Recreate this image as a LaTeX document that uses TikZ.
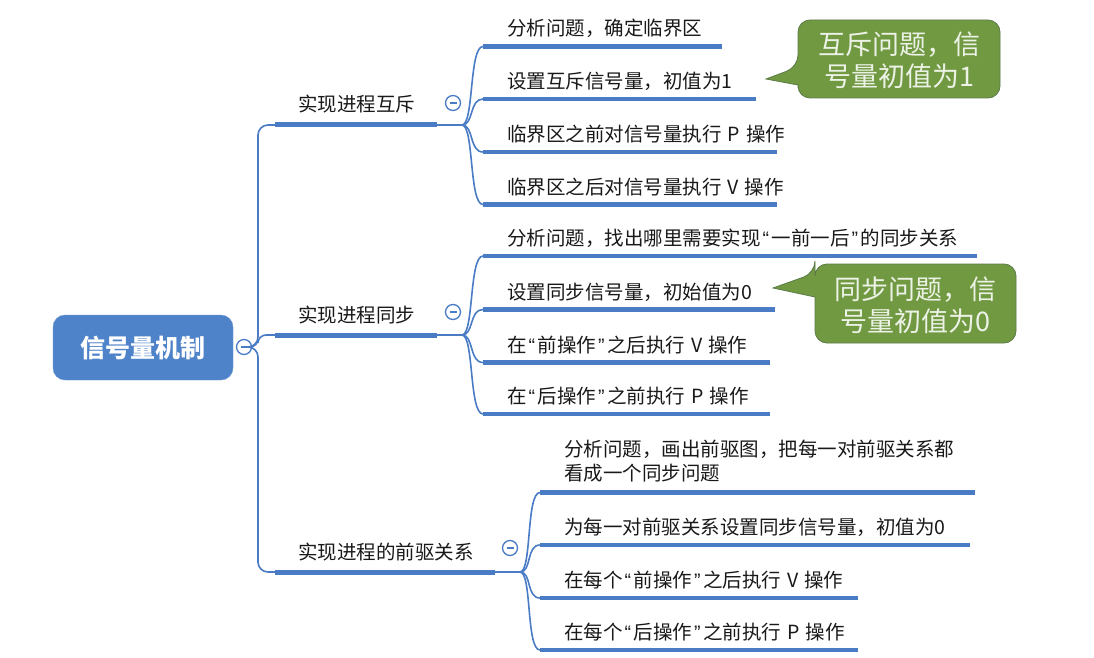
\documentclass[tikz,border=0pt]{standalone}
\usepackage{fontspec}
\setmainfont{Noto Sans CJK SC}
\newfontfamily\qfont{Liberation Sans}
\newcommand\oq{\hspace{2pt}{\qfont “}\hspace{2.5pt}}
\newcommand\cq{\hspace{2pt}{\qfont ”}\hspace{2.5pt}}
\newcommand\lsp{\hspace{6pt}}
\usetikzlibrary{calc}
\definecolor{lineblue}{RGB}{74,124,198}
\definecolor{rootblue}{RGB}{79,131,201}
\definecolor{callgreen}{RGB}{113,153,66}
\definecolor{callborder}{RGB}{92,122,72}
\definecolor{calltxt}{RGB}{236,242,230}
\definecolor{txt}{RGB}{25,25,25}
\begin{document}
\begin{tikzpicture}[x=1pt,y=-1pt,
  leaf/.style={anchor=base west, inner sep=0pt, text=txt, align=left, font=\fontsize{19.5}{24}\selectfont},
  branch/.style={anchor=base west, inner sep=0pt, text=txt, font=\fontsize{19.5}{24}\selectfont},
  uline/.style={draw=lineblue, line width=4.5pt},
  bline/.style={draw=lineblue, line width=5pt},
  conn/.style={draw=lineblue, line width=1.6pt},
  root/.style={rectangle, rounded corners=12pt, fill=rootblue, draw=rootblue!85!white, minimum width=180pt, minimum height=65pt, text=white, font=\fontsize{25}{30}\selectfont\bfseries},
  toggle/.style={circle, draw=lineblue, line width=1.3pt, fill=white, minimum size=15pt, inner sep=0pt,
    path picture={\draw[lineblue,line width=1.3pt] ([xshift=-3.5pt]path picture bounding box.center) -- ([xshift=3.5pt]path picture bounding box.center);}},
  callout/.style={fill=callgreen, draw=callborder, line width=0.8pt},
  calltext/.style={align=center, text=calltxt, font=\fontsize{27}{32}\selectfont},
  ]
\useasboundingbox (0,0) rectangle (1094,658);
\fill[white] (0,0) rectangle (1094,658);

% callouts
\path[callout] (798,85) -- (798,88) [rounded corners=12pt] -- (798,98) -- (1000,98) -- (1000,20) -- (798,20) -- (798,67) [sharp corners] -- (766,79) -- cycle;
\node[calltext] (c1) at (899,60) {互斥问题，信\\号量初值为1};
\path[callout] (815,297) -- (815,300) [rounded corners=12pt] -- (815,343) -- (1016,343) -- (1016,264) -- (815,264) -- (815,273) [sharp corners] -- (773,288) -- cycle;
\node[calltext] (c2) at (915,305) {同步问题，信\\号量初值为0};

% root
\node[root] (root) at (143,347.5) {信号量机制};
\node[toggle] (rt) at (244,347) {};
\coordinate (tr) at (258,347);

% branch coordinates
\coordinate (b1s) at (275,125); \coordinate (b1e) at (437,125); \coordinate (j1) at (462,125);
\coordinate (b2s) at (275,335); \coordinate (b2e) at (437,335); \coordinate (j2) at (462,335);
\coordinate (b3s) at (275,572); \coordinate (b3e) at (495,572); \coordinate (j3) at (520,572);

\draw[conn, rounded corners=10pt] (rt.east) -- (tr) |- (b1s);
\draw[conn, rounded corners=8pt] (rt.east) -- (tr) |- (b2s);
\draw[conn, rounded corners=10pt] (rt.east) -- (tr) |- (b3s);

\draw[bline] (b1s) -- (b1e); \draw[conn] (b1e) -- (j1);
\draw[bline] (b2s) -- (b2e); \draw[conn] (b2e) -- (j2);
\draw[bline] (b3s) -- (b3e); \draw[conn] (b3e) -- (j3);

\node[branch] (b1) at (298,112) {实现进程互斥};
\node[branch] (b2) at (298,322) {实现进程同步};
\node[branch] (b3) at (298,559) {实现进程的前驱关系};

% leaves of branch 1
\coordinate (l11s) at (483,46.5); \coordinate (l11e) at (722,46.5);
\coordinate (l12s) at (483,99);   \coordinate (l12e) at (756,99);
\coordinate (l13s) at (483,152);  \coordinate (l13e) at (777,152);
\coordinate (l14s) at (483,204.5);\coordinate (l14e) at (777,204.5);
\foreach \n in {l11,l12,l13,l14}{
  \draw[conn] (j1) .. controls ($(j1)+(12,0)$) and ($(\n s)+(-14,0)$) .. (\n s);
  \draw[uline] (\n s) -- (\n e);
}
\node[leaf] (l11) at (507,36) {分析问题，确定临界区};
\node[leaf] (l12) at (507,88.5) {设置互斥信号量，初值为1};
\node[leaf] (l13) at (507,141.5) {临界区之前对信号量执行\lsp P\lsp 操作};
\node[leaf] (l14) at (507,194) {临界区之后对信号量执行\lsp V\lsp 操作};

% leaves of branch 2
\coordinate (l21s) at (483,256);  \coordinate (l21e) at (977,256);
\coordinate (l22s) at (483,309.5);\coordinate (l22e) at (775,309.5);
\coordinate (l23s) at (483,362.5);\coordinate (l23e) at (770,362.5);
\coordinate (l24s) at (483,414);  \coordinate (l24e) at (770,414);
\foreach \n in {l21,l22,l23,l24}{
  \draw[conn] (j2) .. controls ($(j2)+(12,0)$) and ($(\n s)+(-14,0)$) .. (\n s);
  \draw[uline] (\n s) -- (\n e);
}
\node[leaf] (l21) at (507,245.5) {分析问题，找出哪里需要实现\oq 一前一后\cq 的同步关系};
\node[leaf] (l22) at (507,299) {设置同步信号量，初始值为0};
\node[leaf] (l23) at (507,352) {在\oq 前操作\cq 之后执行\lsp V\lsp 操作};
\node[leaf] (l24) at (507,403.5) {在\oq 后操作\cq 之前执行\lsp P\lsp 操作};

% leaves of branch 3
\coordinate (l31s) at (540,492.5);\coordinate (l31e) at (975,492.5);
\coordinate (l32s) at (540,545);  \coordinate (l32e) at (970,545);
\coordinate (l33s) at (540,598);  \coordinate (l33e) at (858,598);
\coordinate (l34s) at (540,650);  \coordinate (l34e) at (858,650);
\foreach \n in {l31,l32,l33,l34}{
  \draw[conn] (j3) .. controls ($(j3)+(12,0)$) and ($(\n s)+(-14,0)$) .. (\n s);
  \draw[uline] (\n s) -- (\n e);
}
\node[leaf] (l31) at (564,480) {分析问题，画出前驱图，把每一对前驱关系都\\看成一个同步问题};
\node[leaf] (l32) at (564,534.5) {为每一对前驱关系设置同步信号量，初值为0};
\node[leaf] (l33) at (564,587.5) {在每个\oq 前操作\cq 之后执行\lsp V\lsp 操作};
\node[leaf] (l34) at (564,639.5) {在每个\oq 后操作\cq 之前执行\lsp P\lsp 操作};

% toggles
\node[toggle] (t1) at (453,103) {};
\node[toggle] (t2) at (453,312) {};
\node[toggle] (t3) at (510,548) {};
\end{tikzpicture}
\end{document}
